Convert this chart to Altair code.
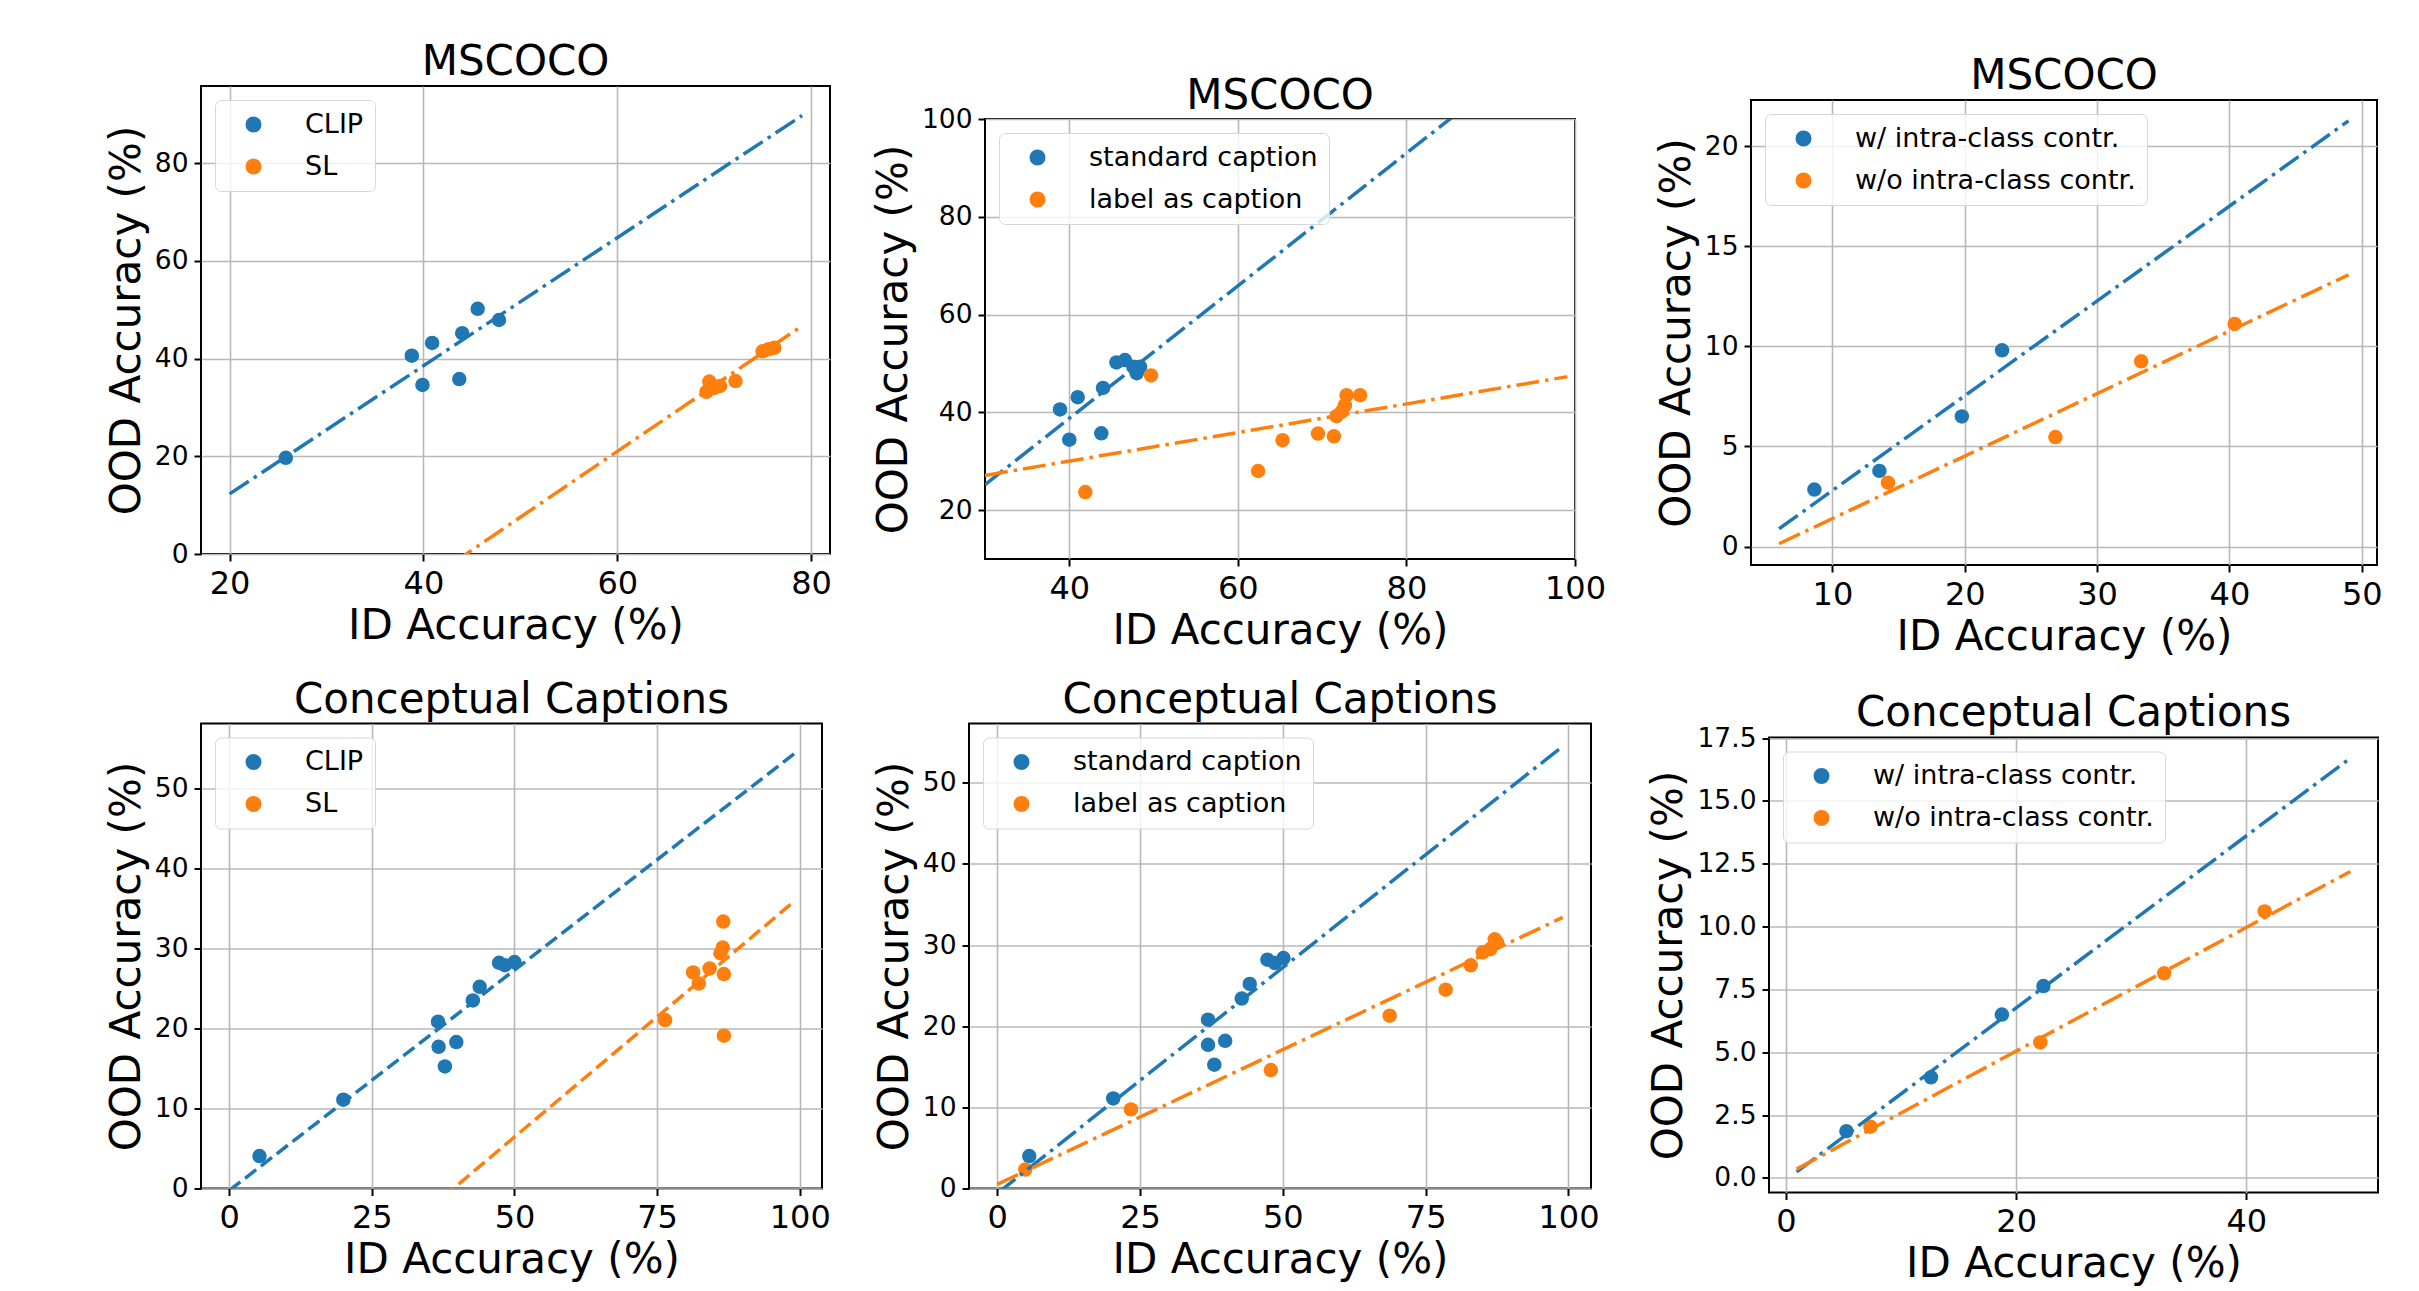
import altair as alt
import pandas as pd

FONT = "DejaVu Sans"
BLUE = "#1f77b4"
ORANGE = "#ff7f0e"
DASHDOT = [23, 6, 3.5, 6]
DASHED = [14, 6]
XTITLE = "ID Accuracy (%)"
YTITLE = "OOD Accuracy (%)"

# ---------------- Panel 1: MSCOCO, CLIP vs SL ----------------
p1_names = ["CLIP", "SL"]
p1_blue_x = [25.8, 38.8, 39.9, 40.9, 43.7, 44.0, 45.6, 47.8]
p1_blue_y = [19.7, 40.6, 34.6, 43.2, 35.8, 45.2, 50.2, 47.9]
p1_orange_x = [69.2, 69.5, 70.0, 70.6, 72.2, 75.0, 75.6, 76.2]
p1_orange_y = [33.2, 35.3, 34.0, 34.4, 35.4, 41.5, 41.9, 42.2]
p1_fit_x = [20.0, 79.07]
p1_fit_blue_y = [12.3, 89.75]
p1_fit_orange_y = [-32.9, 46.7]

# ---------------- Panel 2: MSCOCO, standard caption vs label as caption ----------------
p2_names = ["standard caption", "label as caption"]
p2_blue_x = [38.9, 40.0, 41.0, 43.8, 44.0, 45.6, 46.6, 47.6, 48.0, 48.4]
p2_blue_y = [40.6, 34.4, 43.1, 35.7, 45.0, 50.2, 50.7, 49.3, 48.0, 49.3]
p2_orange_x = [41.9, 49.7, 62.4, 65.3, 69.5, 71.4, 71.7, 72.3, 72.7, 72.9, 74.5]
p2_orange_y = [23.7, 47.55, 28.0, 34.3, 35.65, 35.1, 39.2, 40.1, 41.4, 43.5, 43.5]
p2_fit_x = [30.0, 99.1]
p2_fit_blue_y = [25.2, 118.9]
p2_fit_orange_y = [27.1, 47.3]

# ---------------- Panel 3: MSCOCO, w/ vs w/o intra-class contr. ----------------
p3_names = ["w/ intra-class contr.", "w/o intra-class contr."]
p3_blue_x = [8.64, 13.55, 19.78, 22.82]
p3_blue_y = [2.85, 3.78, 6.5, 9.8]
p3_orange_x = [14.2, 26.85, 33.33, 40.4]
p3_orange_y = [3.19, 5.47, 9.25, 11.12]
p3_fit_x = [5.97, 49.0]
p3_fit_blue_y = [0.89, 21.26]
p3_fit_orange_y = [0.14, 13.57]

# ---------------- Panel 4: Conceptual Captions, CLIP vs SL ----------------
p4_names = ["CLIP", "SL"]
p4_blue_x = [5.3, 20.0, 36.6, 36.7, 37.8, 39.8, 42.7, 43.9, 47.3, 48.3, 50.0]
p4_blue_y = [4.05, 11.1, 20.85, 17.7, 15.25, 18.3, 23.5, 25.2, 28.2, 27.9, 28.3]
p4_orange_x = [76.4, 81.3, 82.3, 84.2, 86.1, 86.5, 86.6, 86.7, 86.7]
p4_orange_y = [21.05, 27.0, 25.6, 27.5, 29.4, 30.1, 33.35, 26.8, 19.1]
p4_fit_x = [0.0, 99.0]
p4_fit_blue_y = [-0.25, 54.3]
p4_fit_orange_y = [-23.6, 35.86]

# ---------------- Panel 5: Conceptual Captions, standard vs label caption ----------------
p5_names = ["standard caption", "label as caption"]
p5_blue_x = [5.6, 20.3, 36.9, 36.9, 38.0, 39.9, 42.8, 44.2, 47.3, 48.6, 50.1]
p5_blue_y = [4.0, 11.1, 20.8, 17.7, 15.25, 18.2, 23.4, 25.2, 28.2, 27.8, 28.4]
p5_orange_x = [4.9, 23.4, 47.9, 68.7, 78.5, 82.9, 85.0, 86.3, 87.1, 87.5]
p5_orange_y = [2.34, 9.75, 14.6, 21.3, 24.5, 27.5, 29.1, 29.5, 30.7, 30.3]
p5_fit_x = [0.0, 99.0]
p5_fit_blue_y = [-0.6, 54.5]
p5_fit_orange_y = [0.5, 33.4]

# ---------------- Panel 6: Conceptual Captions, w/ vs w/o intra-class contr. ----------------
p6_names = ["w/ intra-class contr.", "w/o intra-class contr."]
p6_blue_x = [5.25, 12.6, 18.76, 22.37]
p6_blue_y = [1.86, 4.0, 6.5, 7.63]
p6_orange_x = [7.34, 22.1, 32.86, 41.6]
p6_orange_y = [2.04, 5.39, 8.14, 10.6]
p6_fit_x = [0.92, 49.05]
p6_fit_blue_y = [0.24, 16.7]
p6_fit_orange_y = [0.35, 12.19]

RES = dict(color="independent", stroke="independent")


def panel(title, names, bx, by, ox, oy, fx, fby, foy,
          xdom, ydom, xticks, yticks, yfmt, width, height, dash, toff=-40):
    pts = pd.DataFrame({
        "x": bx + ox,
        "y": by + oy,
        "s": [names[0]] * len(bx) + [names[1]] * len(ox),
    })
    fit = pd.DataFrame({
        "x": fx + fx,
        "y": fby + foy,
        "s": [names[0]] * 2 + [names[1]] * 2,
    })
    xs = alt.Scale(domain=xdom, nice=False, zero=False)
    ys = alt.Scale(domain=ydom, nice=False, zero=False)
    xax = alt.Axis(values=xticks, title=XTITLE, format="d")
    yax = alt.Axis(values=yticks, title=YTITLE, format=yfmt)
    cscale = alt.Scale(domain=names, range=[BLUE, ORANGE])
    points = alt.Chart(pts).mark_circle(size=210, opacity=1).encode(
        x=alt.X("x:Q", scale=xs, axis=xax),
        y=alt.Y("y:Q", scale=ys, axis=yax),
        color=alt.Color("s:N", scale=cscale, legend=alt.Legend(
            title=None, orient="none", legendX=14, legendY=14,
            fillColor="rgba(255,255,255,0.8)", strokeColor="#d6d6d6",
            cornerRadius=6, padding=11, symbolType="circle", symbolSize=210,
            symbolOffset=14, labelOffset=38, rowPadding=14,
            labelFontSize=27, labelFont=FONT, labelColor="black",
            labelLimit=600)),
    )
    lines = alt.Chart(fit).mark_line(clip=True, strokeWidth=3.5, strokeDash=dash).encode(
        x=alt.X("x:Q", scale=xs, axis=xax),
        y=alt.Y("y:Q", scale=ys, axis=yax),
        stroke=alt.Stroke("s:N", scale=alt.Scale(domain=names, range=[BLUE, ORANGE]), legend=None),
        detail="s:N",
    )
    ttl = alt.TitleParams(text=title, fontSize=42, font=FONT, fontWeight="normal",
                          baseline="bottom", offset=toff, color="black", anchor="middle")
    return alt.layer(points, lines).properties(width=width, height=height, title=ttl)


def spacer(h):
    return alt.Chart(pd.DataFrame({"v": [0]})).mark_point(opacity=0, size=1).encode(
        x=alt.X("v:Q", axis=None), y=alt.Y("v:Q", axis=None)
    ).properties(width=1, height=h, view=alt.ViewBackground(stroke="transparent"))


def cell(h, c):
    return alt.vconcat(spacer(h), c, spacing=0).resolve_scale(**RES)


c1 = panel("MSCOCO", p1_names, p1_blue_x, p1_blue_y, p1_orange_x, p1_orange_y,
           p1_fit_x, p1_fit_blue_y, p1_fit_orange_y,
           [17.05, 81.95], [0, 95.8], [20, 40, 60, 80], [0, 20, 40, 60, 80], "d",
           629, 468, DASHDOT)
c2 = panel("MSCOCO", p2_names, p2_blue_x, p2_blue_y, p2_orange_x, p2_orange_y,
           p2_fit_x, p2_fit_blue_y, p2_fit_orange_y,
           [30, 100], [10, 100], [40, 60, 80, 100], [20, 40, 60, 80, 100], "d",
           590, 440, DASHDOT, toff=-54)
c3 = panel("MSCOCO", p3_names, p3_blue_x, p3_blue_y, p3_orange_x, p3_orange_y,
           p3_fit_x, p3_fit_blue_y, p3_fit_orange_y,
           [3.85, 51.15], [-0.92, 22.3], [10, 20, 30, 40, 50], [0, 5, 10, 15, 20], "d",
           626, 465, DASHDOT)
c4 = panel("Conceptual Captions", p4_names, p4_blue_x, p4_blue_y, p4_orange_x, p4_orange_y,
           p4_fit_x, p4_fit_blue_y, p4_fit_orange_y,
           [-4.95, 103.9], [0, 58.1], [0, 25, 50, 75, 100], [0, 10, 20, 30, 40, 50], "d",
           621, 465, DASHED)
c5 = panel("Conceptual Captions", p5_names, p5_blue_x, p5_blue_y, p5_orange_x, p5_orange_y,
           p5_fit_x, p5_fit_blue_y, p5_fit_orange_y,
           [-4.95, 103.95], [0, 57.3], [0, 25, 50, 75, 100], [0, 10, 20, 30, 40, 50], "d",
           622, 465, DASHDOT)
c6 = panel("Conceptual Captions", p6_names, p6_blue_x, p6_blue_y, p6_orange_x, p6_orange_y,
           p6_fit_x, p6_fit_blue_y, p6_fit_orange_y,
           [-1.48, 51.45], [-0.58, 17.52], [0, 20, 40],
           [0, 2.5, 5, 7.5, 10, 12.5, 15, 17.5], ".1f",
           609, 455, DASHDOT, toff=-52)

row1 = alt.hconcat(
    cell(1, c1),
    alt.hconcat(cell(35, c2), cell(15, c3), spacing=47).resolve_scale(**RES),
    spacing=38,
).resolve_scale(**RES)
row2 = alt.hconcat(
    cell(1, c4),
    alt.hconcat(cell(1, c5), cell(13.6, c6), spacing=46).resolve_scale(**RES),
    spacing=40,
).resolve_scale(**RES)

chart = alt.vconcat(row1, row2, spacing=16.5).resolve_scale(**RES).properties(
    padding={"left": 96, "top": 29, "right": 5, "bottom": 0},
    background="white",
).configure(font=FONT).configure_view(
    stroke="black", strokeWidth=2
).configure_axis(
    grid=True, gridColor="#b8b8b8", gridWidth=1.6, domain=False,
    tickColor="black", tickSize=7, tickWidth=2,
    labelColor="black", titleColor="black", labelFont=FONT, titleFont=FONT,
    titleFontSize=42, titleFontWeight="normal",
    labelFlush=False, labelOverlap=False, labelBound=False,
).configure_axisX(
    labelFontSize=32, labelPadding=7, titlePadding=6
).configure_axisY(
    labelFontSize=26.5, labelPadding=6, titlePadding=6
)

chart.save("out.html", embed_options={"renderer": "svg", "actions": False})
